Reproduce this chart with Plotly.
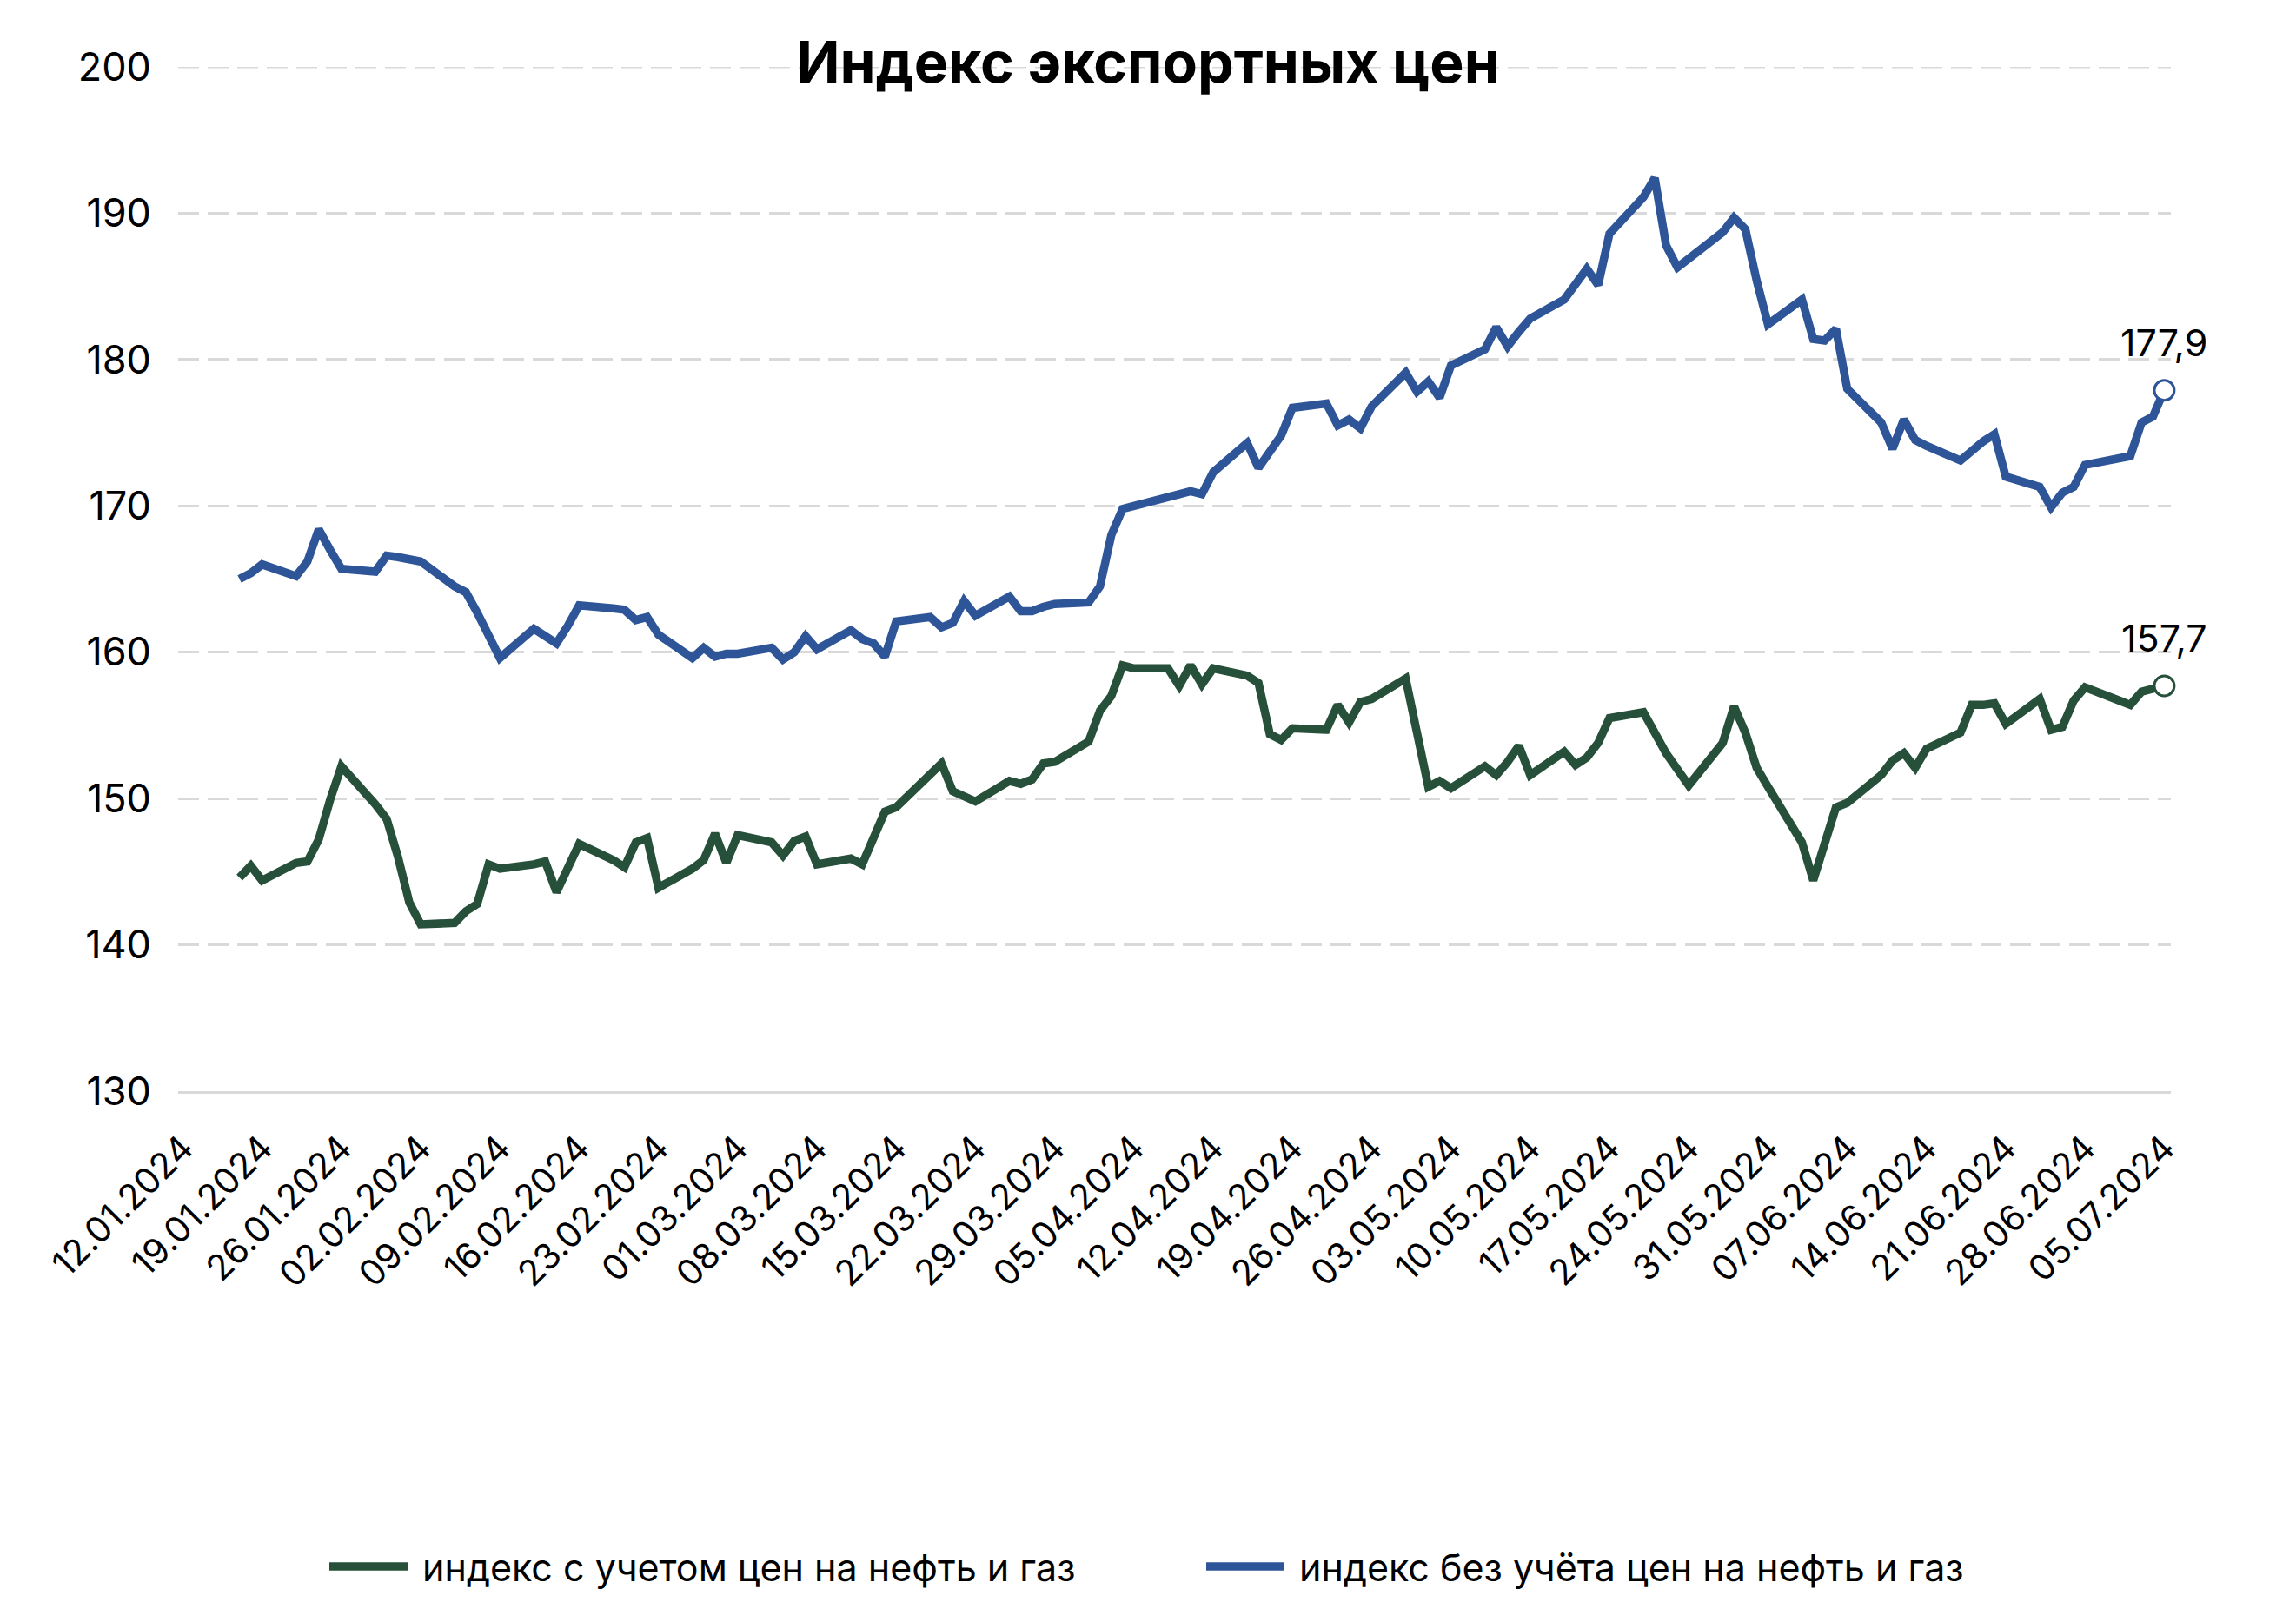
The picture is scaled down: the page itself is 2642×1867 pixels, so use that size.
import plotly.graph_objects as go

# Business days (data points)
dates = [
    "2024-01-17", "2024-01-18", "2024-01-19",
    "2024-01-22", "2024-01-23", "2024-01-24", "2024-01-25", "2024-01-26",
    "2024-01-29", "2024-01-30", "2024-01-31", "2024-02-01", "2024-02-02",
    "2024-02-05", "2024-02-06", "2024-02-07", "2024-02-08", "2024-02-09",
    "2024-02-12", "2024-02-13", "2024-02-14", "2024-02-15", "2024-02-16",
    "2024-02-19", "2024-02-20", "2024-02-21", "2024-02-22", "2024-02-23",
    "2024-02-26", "2024-02-27", "2024-02-28", "2024-02-29", "2024-03-01",
    "2024-03-04", "2024-03-05", "2024-03-06", "2024-03-07", "2024-03-08",
    "2024-03-11", "2024-03-12", "2024-03-13", "2024-03-14", "2024-03-15",
    "2024-03-18", "2024-03-19", "2024-03-20", "2024-03-21", "2024-03-22",
    "2024-03-25", "2024-03-26", "2024-03-27", "2024-03-28", "2024-03-29",
    "2024-04-01", "2024-04-02", "2024-04-03", "2024-04-04", "2024-04-05",
    "2024-04-08", "2024-04-09", "2024-04-10", "2024-04-11", "2024-04-12",
    "2024-04-15", "2024-04-16", "2024-04-17", "2024-04-18", "2024-04-19",
    "2024-04-22", "2024-04-23", "2024-04-24", "2024-04-25", "2024-04-26",
    "2024-04-29", "2024-04-30", "2024-05-01", "2024-05-02", "2024-05-03",
    "2024-05-06", "2024-05-07", "2024-05-08", "2024-05-09", "2024-05-10",
    "2024-05-13", "2024-05-14", "2024-05-15", "2024-05-16", "2024-05-17",
    "2024-05-20", "2024-05-21", "2024-05-22", "2024-05-23", "2024-05-24",
    "2024-05-27", "2024-05-28", "2024-05-29", "2024-05-30", "2024-05-31",
    "2024-06-03", "2024-06-04", "2024-06-05", "2024-06-06", "2024-06-07",
    "2024-06-10", "2024-06-11", "2024-06-12", "2024-06-13", "2024-06-14",
    "2024-06-17", "2024-06-18", "2024-06-19", "2024-06-20", "2024-06-21",
    "2024-06-24", "2024-06-25", "2024-06-26", "2024-06-27", "2024-06-28",
    "2024-07-01", "2024-07-02", "2024-07-03", "2024-07-04", "2024-07-05",
]

# индекс с учетом цен на нефть и газ
with_oil_gas = [
    144.6, 145.4, 144.4,
    145.6, 145.7, 147.2, 149.9, 152.2,
    149.6, 148.6, 146.0, 142.9, 141.4,
    141.5, 142.3, 142.8, 145.5, 145.2,
    145.5, 145.7, 143.6, 145.4, 146.9,
    145.8, 145.3, 147.0, 147.3, 143.9,
    145.2, 145.8, 147.6, 145.6, 147.5,
    147.0, 146.1, 147.1, 147.4, 145.5,
    145.9, 145.5, 147.2, 149.1, 149.4,
    151.7, 152.4, 150.5, 150.2, 149.8,
    151.2, 151.0, 151.3, 152.4, 152.5,
    153.9, 156.0, 157.0, 159.1, 158.9,
    158.9, 157.7, 159.1, 157.8, 158.9,
    158.4, 157.9, 154.4, 154.0, 154.8,
    154.7, 156.4, 155.2, 156.6, 156.8,
    158.2, 154.5, 150.8, 151.2, 150.7,
    152.2, 151.6, 152.5, 153.6, 151.6,
    153.2, 152.3, 152.8, 153.8, 155.5,
    155.9, 154.4, 153.1, 152.0, 150.9,
    153.8, 156.3, 154.5, 152.1, 150.8,
    147.0, 144.4, 146.9, 149.4, 149.7,
    151.6, 152.6, 153.1, 152.1, 153.4,
    154.5, 156.4, 156.4, 156.5, 155.1,
    156.8, 154.7, 154.9, 156.7, 157.6,
    156.7, 156.4, 157.3, 157.5, 157.7,
]

# индекс без учёта цен на нефть и газ
without_oil_gas = [
    165.0, 165.4, 166.0,
    165.2, 166.2, 168.4, 167.0, 165.7,
    165.5, 166.6, 166.5, 166.4, 166.2,
    164.5, 164.1, 162.7, 161.0, 159.6,
    161.6, 161.1, 160.6, 161.8, 163.2,
    163.0, 162.9, 162.2, 162.4, 161.2,
    159.6, 160.3, 159.7, 159.9, 159.9,
    160.3, 159.5, 160.0, 161.1, 160.2,
    161.5, 160.9, 160.6, 159.7, 162.1,
    162.4, 161.7, 162.0, 163.5, 162.5,
    163.8, 162.8, 162.8, 163.1, 163.3,
    163.4, 164.5, 168.0, 169.8, 170.0,
    170.5, 170.8, 171.0, 170.8, 172.3,
    174.3, 172.6, 173.6, 174.8, 176.7,
    177.0, 175.5, 175.9, 175.3, 176.8,
    179.1, 177.8, 178.5, 177.4, 179.6,
    180.7, 182.2, 180.9, 181.9, 182.8,
    184.1, 185.2, 186.2, 185.1, 188.6,
    191.1, 192.4, 187.8, 186.3, 186.9,
    188.7, 189.7, 188.9, 185.4, 182.4,
    184.1, 181.4, 181.3, 182.1, 178.0,
    175.7, 173.9, 175.9, 174.5, 174.1,
    173.1, 173.8, 174.4, 174.9, 172.0,
    171.3, 169.9, 170.9, 171.3, 172.8,
    173.3, 173.4, 175.7, 176.1, 177.9,
]

tick_dates = [
    "2024-01-12", "2024-01-19", "2024-01-26", "2024-02-02", "2024-02-09",
    "2024-02-16", "2024-02-23", "2024-03-01", "2024-03-08", "2024-03-15",
    "2024-03-22", "2024-03-29", "2024-04-05", "2024-04-12", "2024-04-19",
    "2024-04-26", "2024-05-03", "2024-05-10", "2024-05-17", "2024-05-24",
    "2024-05-31", "2024-06-07", "2024-06-14", "2024-06-21", "2024-06-28",
    "2024-07-05",
]
tick_labels = [
    "12.01.2024", "19.01.2024", "26.01.2024", "02.02.2024", "09.02.2024",
    "16.02.2024", "23.02.2024", "01.03.2024", "08.03.2024", "15.03.2024",
    "22.03.2024", "29.03.2024", "05.04.2024", "12.04.2024", "19.04.2024",
    "26.04.2024", "03.05.2024", "10.05.2024", "17.05.2024", "24.05.2024",
    "31.05.2024", "07.06.2024", "14.06.2024", "21.06.2024", "28.06.2024",
    "05.07.2024",
]

series_names = ["индекс с учетом цен на нефть и газ", "индекс без учёта цен на нефть и газ"]
last_labels = ["157,7", "177,9"]

GREEN = "#26503A"
BLUE = "#2E5597"
FONT = "Inter"
GRID = "#D9D9D9"

fig = go.Figure()
for name, vals, col, lab in zip(series_names, [with_oil_gas, without_oil_gas], [GREEN, BLUE], last_labels):
    fig.add_trace(go.Scatter(
        x=dates, y=vals, mode="lines", name="\u00a0" + name,
        line=dict(color=col, width=9.5),
        hoverinfo="skip",
    ))
    fig.add_trace(go.Scatter(
        x=[dates[-1]], y=[vals[-1]], mode="markers", showlegend=False,
        marker=dict(size=23, color="white", line=dict(color=col, width=3)),
        cliponaxis=False, hoverinfo="skip",
    ))
    fig.add_annotation(
        x=dates[-1], y=vals[-1], text=lab, showarrow=False,
        yshift=55, font=dict(family=FONT, size=43, color="#000000"),
    )

# top gridline at 200 (range edge)
fig.add_shape(type="line", xref="paper", x0=0, x1=1, yref="y", y0=200, y1=200,
              line=dict(color=GRID, width=3, dash="24px,10px"), layer="below")

fig.update_layout(
    width=2642, height=1867,
    paper_bgcolor="white", plot_bgcolor="white",
    margin=dict(l=205, r=144, t=77, b=611),
    title=dict(
        text="<b>Индекс экспортных цен</b>",
        x=0.5, xanchor="center", xref="container",
        y=1 - 72 / 1867, yanchor="middle", yref="container",
        font=dict(family=FONT, size=66, color="#000000"),
    ),
    legend=dict(
        orientation="h", x=0.0737, xanchor="left", y=-0.464, yanchor="middle",
        font=dict(family=FONT, size=43, color="#000000"),
        entrywidth=904, entrywidthmode="pixels",
        itemwidth=90,
    ),
    font=dict(family=FONT, size=40, color="#000000"),
    showlegend=True,
)

fig.update_xaxes(
    type="date",
    range=["2024-01-11 14:00", "2024-07-05 14:00"],
    tickvals=tick_dates, ticktext=tick_labels,
    tickangle=-45,
    tickfont=dict(family=FONT, size=41, color="#000000"),
    showgrid=False,
    showline=True, linecolor=GRID, linewidth=3,
    ticks="", ticklabelstandoff=22,
)
fig.update_yaxes(
    range=[130, 200], dtick=10, tick0=130,
    tickfont=dict(family=FONT, size=45, color="#000000"),
    showgrid=True, gridcolor=GRID, gridwidth=3, griddash="24px,10px",
    zeroline=False, showline=False,
    ticks="", ticklabelstandoff=30,
)

fig.write_html("out.html")
